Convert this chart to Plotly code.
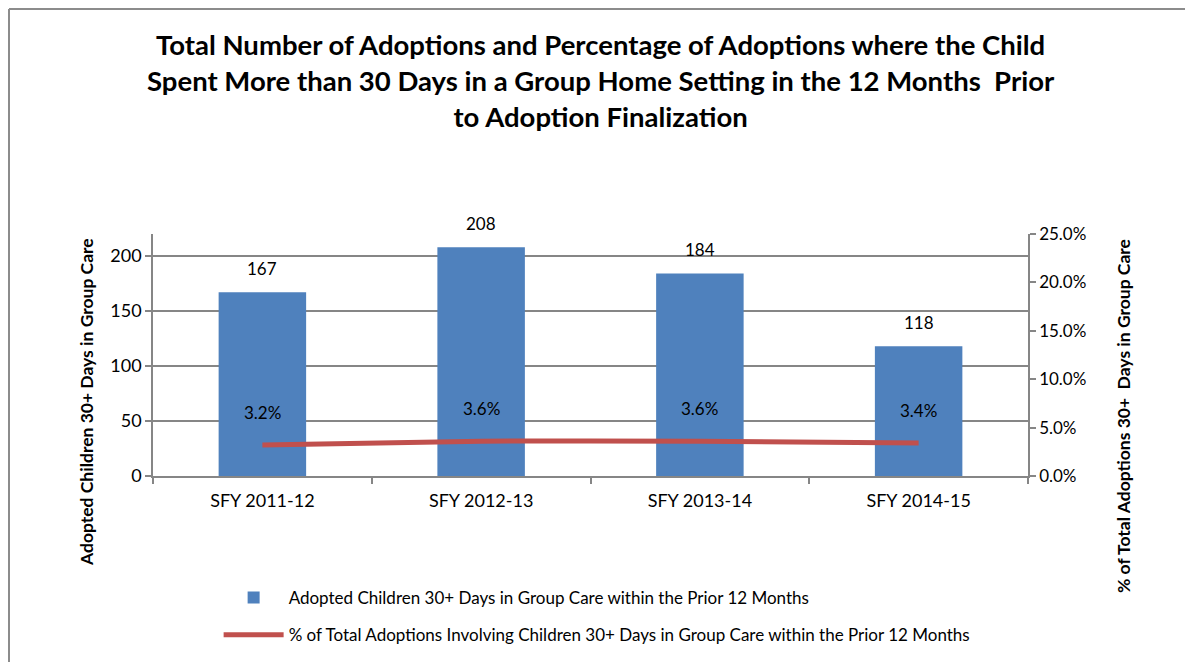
import plotly.graph_objects as go

categories = ["SFY 2011-12", "SFY 2012-13", "SFY 2013-14", "SFY 2014-15"]
adopted_counts = [167, 208, 184, 118]
pct_total = [0.032, 0.036, 0.036, 0.034]
pct_labels = ["3.2%", "3.6%", "3.6%", "3.4%"]
bar_name = "Adopted Children 30+ Days in Group Care within the Prior 12 Months"
line_name = "% of Total Adoptions Involving Children 30+ Days in Group Care within the Prior 12 Months"
title_text = ("Total Number of Adoptions and Percentage of Adoptions where the Child<br>"
              "Spent More than 30 Days in a Group Home Setting in the 12 Months  Prior<br>"
              "to Adoption Finalization")
left_title = "Adopted Children 30+ Days in Group Care"
right_title = "% of Total Adoptions 30+  Days in Group Care"

FONT = "Lato"
GRID = "#868686"

# page body has an 8px margin; figure sized to fill the rest of the window
W, H = 1185, 654
L, R, T, B = 145, 165, 226, 186
pw, ph = W - L - R, H - T - B

fig = go.Figure()
fig.add_trace(go.Bar(
    x=categories, y=adopted_counts, name=bar_name,
    marker=dict(color="#4F81BD", line=dict(width=0)),
    legendgroup="a",
))
fig.add_trace(go.Scatter(
    x=categories, y=pct_total, name=line_name, yaxis="y2",
    mode="lines", line=dict(color="#C0504D", width=5, shape="spline", smoothing=0.6),
    legendgroup="b",
))

annotations = []
for c, v in zip(categories, adopted_counts):
    annotations.append(dict(x=c, y=v, xref="x", yref="y", text=str(v), showarrow=False,
                            yanchor="middle", yshift=24, font=dict(size=17, color="#000000", family=FONT)))
for c, v, t in zip(categories, pct_total, pct_labels):
    annotations.append(dict(x=c, y=v, xref="x", yref="y2", text=t, showarrow=False,
                            yanchor="middle", yshift=33, font=dict(size=17, color="#000000", family=FONT)))
annotations.append(dict(x=(78 - L) / pw, y=(T + ph - 394) / ph, xref="paper", yref="paper",
                        text="<b>" + left_title + "</b>",
                        textangle=-90, showarrow=False, xanchor="center", yanchor="middle",
                        font=dict(size=17.5, color="#000000", family=FONT)))
annotations.append(dict(x=(1115 - L) / pw, y=(T + ph - 408) / ph, xref="paper", yref="paper",
                        text="<b>" + right_title + "</b>",
                        textangle=-90, showarrow=False, xanchor="center", yanchor="middle",
                        font=dict(size=17.5, color="#000000", family=FONT)))
annotations.append(dict(x=(593 - L) / pw, y=(T + ph - 18) / ph, xref="paper", yref="paper",
                        text="<b>" + title_text + "</b>", showarrow=False,
                        xanchor="center", yanchor="top", align="center",
                        font=dict(size=27.5, color="#000000", family=FONT)))

bx = (1 - L) / pw
by = (T + ph - 1) / ph
shapes = [
    dict(type="line", xref="paper", yref="paper", x0=bx, x1=(W - L) / pw, y0=by, y1=by,
         line=dict(color="#8C8C8C", width=2)),
    dict(type="line", xref="paper", yref="paper", x0=bx, x1=bx, y0=by, y1=-B / ph,
         line=dict(color="#8C8C8C", width=2)),
]

fig.update_layout(
    width=W, height=H,
    margin=dict(l=L, r=R, t=T, b=B, autoexpand=False),
    paper_bgcolor="white", plot_bgcolor="white",
    font=dict(family=FONT, color="#000000", size=16),
    bargap=0.6,
    showlegend=True,
    legend=dict(x=0.075, y=-0.43, xanchor="left", yanchor="top", orientation="v",
                traceorder="grouped", tracegroupgap=12, font=dict(size=17, family=FONT),
                itemwidth=60, bgcolor="rgba(0,0,0,0)"),
    xaxis=dict(type="category", showline=True, linecolor=GRID, linewidth=1.5,
               ticks="outside", tickson="boundaries", ticklen=6, tickcolor=GRID, tickwidth=1.5,
               ticklabelstandoff=8,
               tickfont=dict(size=18, family=FONT), showgrid=False),
    yaxis=dict(range=[0, 220], tickvals=[0, 50, 100, 150, 200], showline=True, linecolor=GRID,
               linewidth=1.5, ticks="outside", ticklen=6, tickcolor=GRID, tickwidth=1.5,
               showgrid=True, gridcolor=GRID, gridwidth=1.5, zeroline=False,
               tickfont=dict(size=18, family=FONT)),
    yaxis2=dict(range=[0, 0.25], tickvals=[0, 0.05, 0.10, 0.15, 0.20, 0.25], tickformat=".1%",
                overlaying="y", side="right", showline=True, linecolor=GRID, linewidth=1.5,
                ticks="outside", ticklen=6, tickcolor=GRID, tickwidth=1.5, showgrid=False,
                zeroline=False, tickfont=dict(size=17, family=FONT)),
    annotations=annotations,
    shapes=shapes,
)

fig.write_html("out.html")
